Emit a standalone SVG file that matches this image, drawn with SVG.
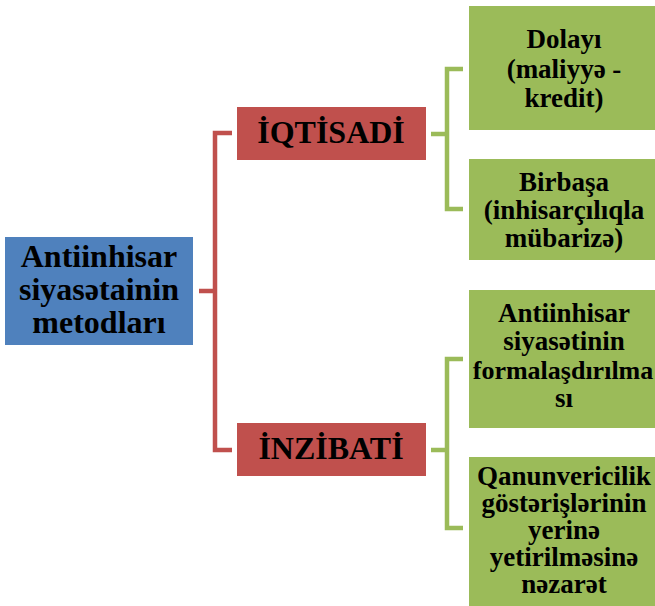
<svg xmlns="http://www.w3.org/2000/svg" width="655" height="606" viewBox="0 0 655 606">
<style>
  text { font-family: "Liberation Serif", "DejaVu Serif", serif; font-weight: bold; fill: #000; text-anchor: middle; }
  .blue { fill: #4F81BD; }
  .red { fill: #C0504D; }
  .green { fill: #9BBB59; }
  .lr { fill: none; stroke: #C0504D; stroke-width: 4.5; }
  .lg { fill: none; stroke: #9BBB59; stroke-width: 4.5; }
  .t32 { font-size: 32px; }
  .t27 { font-size: 27px; }
</style>
<rect width="655" height="606" fill="#fff"/>
<g id="connectors">
  <path class="lr" d="M199,291 H215 M232,133 H215 V450 H232"/>
  <path class="lg" d="M431,134 H447 M463,69 H447 V209 H463"/>
  <path class="lg" d="M431,450 H447 M463,359 H447 V528 H463"/>
</g>
<g id="root">
  <rect class="blue" x="5" y="237" width="188" height="108"/>
  <text class="t32" x="99" y="267">Antiinhisar</text>
  <text class="t32" x="99" y="300">siyasətainin</text>
  <text class="t32" x="99" y="333">metodları</text>
</g>
<g id="iqtisadi">
  <rect class="red" x="237" y="107" width="189" height="53"/>
  <text class="t32" x="331" y="142.5">İQTİSADİ</text>
</g>
<g id="inzibati">
  <rect class="red" x="237" y="423" width="189" height="53"/>
  <text class="t32" x="331" y="458.5">İNZİBATİ</text>
</g>
<g id="dolayi">
  <rect class="green" x="469" y="6" width="190" height="124"/>
  <text class="t27" x="564" y="48">Dolayı</text>
  <text class="t27" x="564" y="77.5">(maliyyə -</text>
  <text class="t27" x="564" y="107">kredit)</text>
</g>
<g id="birbasa">
  <rect class="green" x="469" y="159" width="190" height="101"/>
  <text class="t27" x="564" y="191">Birbaşa</text>
  <text class="t27" x="564" y="219">(inhisarçılıqla</text>
  <text class="t27" x="564" y="247">mübarizə)</text>
</g>
<g id="formalasdirilmasi">
  <rect class="green" x="469" y="290" width="190" height="138"/>
  <text class="t27" x="564" y="322">Antiinhisar</text>
  <text class="t27" x="564" y="350">siyasətinin</text>
  <text class="t27" x="563" y="379" style="font-size:26px">formalaşdırılma</text>
  <text class="t27" x="564" y="407">sı</text>
</g>
<g id="qanunvericilik">
  <rect class="green" x="469" y="457" width="190" height="155"/>
  <text class="t27" x="564" y="485">Qanunvericilik</text>
  <text class="t27" x="564" y="512">göstərişlərinin</text>
  <text class="t27" x="564" y="539">yerinə</text>
  <text class="t27" x="564" y="566">yetirilməsinə</text>
  <text class="t27" x="564" y="593">nəzarət</text>
</g>
</svg>
